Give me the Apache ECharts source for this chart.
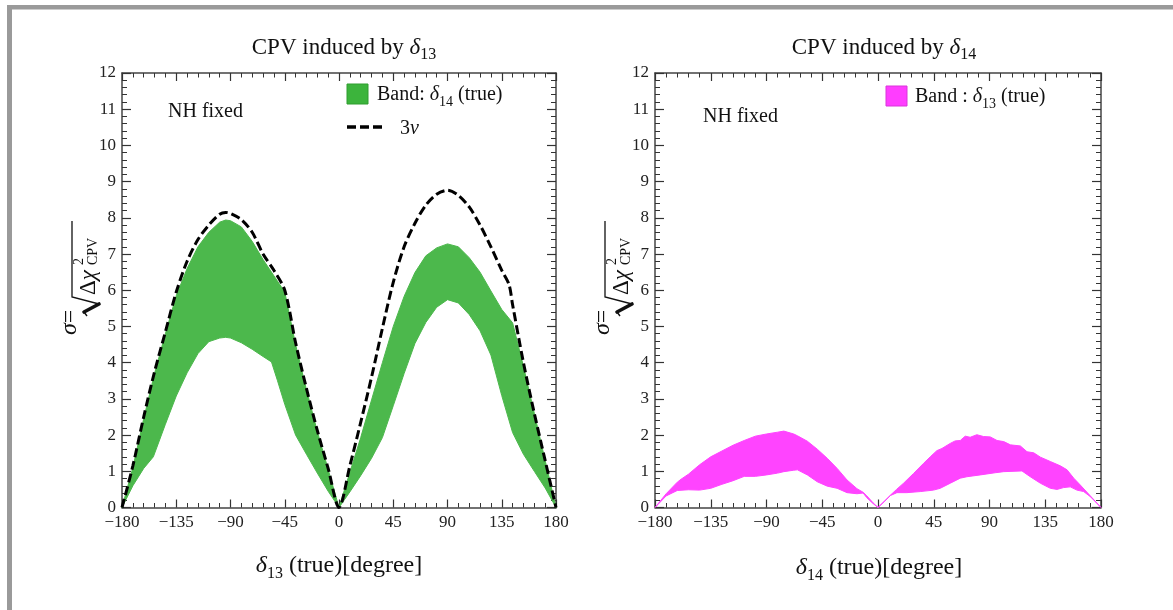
<!DOCTYPE html>
<html>
<head>
<meta charset="utf-8">
<script src="https://cdn.jsdelivr.net/npm/echarts@6/dist/echarts.min.js"></script>
<style>
html,body{margin:0;padding:0;background:#fff;}
#chart{width:1173px;height:610px;}
</style>
</head>
<body>
<div id="chart"></div>
<script>
// ---------- DATA ----------
// Left panel: CPV induced by delta13 (band over delta14 true), plus 3nu dashed
const leftUpperX = [-180,-171,-162,-153,-144,-135,-126,-117,-108,-99,-94,-90,-81,-72,-63,-54,-45,-36,-27,-18,-9,0,9,18,27,36,45,54,63,72,81,90,99,108,117,126,135,144,153,162,171,180];
const leftUpperY = [0,1.1,2.45,3.7,4.8,5.85,6.6,7.2,7.6,7.88,7.94,7.92,7.75,7.35,6.85,6.4,5.95,4.5,3.25,2.1,1.05,0,0.97,1.93,2.97,4.0,5.0,5.83,6.49,6.95,7.17,7.28,7.2,6.9,6.5,5.98,5.47,5.1,3.9,2.6,1.3,0];
const leftLowerX = [-180,-171,-162,-154,-144,-135,-126,-117,-108,-99,-94,-90,-81,-72,-63,-56,-51,-45,-36,-27,-18,-9,0,9,18,27,36,45,54,63,72,81,90,99,108,117,126,135,144,153,162,171,180];
const leftLowerY = [0,0.6,1.08,1.4,2.3,3.08,3.72,4.25,4.58,4.68,4.7,4.68,4.55,4.37,4.17,4.02,3.5,2.85,2.0,1.47,0.95,0.45,0,0.43,0.88,1.36,1.93,2.81,3.7,4.53,5.11,5.53,5.74,5.65,5.33,4.88,4.21,3.09,2.07,1.47,1.0,0.54,0];
const threeNuX = [-180,-171,-162,-153,-144,-135,-126,-117,-108,-99,-94,-90,-81,-72,-63,-54,-45,-36,-27,-18,-9,0,9,18,27,36,45,54,63,72,81,90,99,108,117,126,135,141,144,153,162,171,180];
const threeNuY = [0,1.15,2.5,3.75,4.85,5.95,6.8,7.4,7.8,8.1,8.15,8.12,7.95,7.6,7.0,6.55,6.0,4.55,3.29,2.13,1.08,0,1.15,2.35,3.6,4.95,6.22,7.2,7.85,8.35,8.65,8.76,8.62,8.3,7.8,7.2,6.55,6.16,5.6,4.0,2.6,1.3,0];

// Right panel: CPV induced by delta14 (band over delta13 true)
const rightUpperX = [-180,-171,-162,-159,-153,-144,-135,-126,-117,-108,-99,-90,-81,-76,-68,-65,-57,-49,-41,-33,-25,-17,-12,-9,-4,0,5,10,15,20.6,28.7,36.8,42.2,47.5,51.6,58.3,62.3,66.4,70.4,74.4,79.8,85.2,90.6,96.1,101.5,106.9,114.9,120.3,125.7,131.1,139.1,147.2,152.6,158,163.3,171.4,180];
const rightUpperY = [0,0.38,0.70,0.78,0.92,1.18,1.40,1.56,1.72,1.85,1.97,2.03,2.08,2.11,2.03,1.98,1.83,1.61,1.36,1.08,0.76,0.52,0.42,0.32,0.13,0,0.17,0.34,0.5,0.67,0.94,1.22,1.40,1.57,1.63,1.77,1.84,1.85,1.97,1.94,2.01,1.96,1.95,1.85,1.82,1.73,1.70,1.54,1.51,1.39,1.27,1.15,1.04,0.81,0.62,0.32,0];
const rightLowerX = [-180,-171,-162,-153,-144,-135,-126,-117,-108,-99,-90,-81,-76,-68,-65,-57,-49,-41,-33,-25,-17,-12,-9,-4,0,5,10,15.3,23.3,34.1,44.8,50.2,58.3,66.4,71.8,82.5,94.6,101.5,116.2,122.9,131.1,139.1,144.5,149.8,155.2,160.6,166,171.4,180];
const rightLowerY = [0,0.32,0.47,0.49,0.48,0.53,0.64,0.74,0.86,0.86,0.90,0.95,0.99,1.03,1.04,0.90,0.71,0.59,0.53,0.41,0.38,0.40,0.27,0.11,0,0.16,0.33,0.41,0.41,0.44,0.48,0.53,0.67,0.81,0.85,0.90,0.96,0.99,1.01,0.85,0.67,0.53,0.50,0.55,0.57,0.48,0.44,0.30,0];

const xTicks = [-180,-135,-90,-45,0,45,90,135,180];
const yTicks = [0,1,2,3,4,5,6,7,8,9,10,11,12];

// ---------- HELPERS ----------
const FONT = '"Liberation Serif","DejaVu Serif",serif';
const pairs = (xs, ys) => xs.map((x, i) => [x, ys[i]]);
const GREEN = '#4cb84c';
const MAGENTA = '#ff44ff';
const TXT = '#111';

function bandSeries(idx, upX, upY, loX, loY, color) {
  const up = pairs(upX, upY);
  const lo = pairs(loX, loY);
  return {
    type: 'custom',
    xAxisIndex: idx, yAxisIndex: idx,
    data: up,
    encode: {x: 0, y: 1},
    silent: true,
    z: 2,
    renderItem: function (params, api) {
      if (params.dataIndex !== 0) return null;
      const pts = [];
      up.forEach(p => pts.push(api.coord(p)));
      for (let i = lo.length - 1; i >= 0; i--) pts.push(api.coord(lo[i]));
      return {
        type: 'polygon',
        shape: {points: pts},
        style: {fill: color, stroke: color, lineWidth: 1}
      };
    }
  };
}

// rich styles: a normal, d italic, s subscript
function rich(size, colorKey) {
  const ck = colorKey || 'color';
  const sub = Math.round(size * 0.68);
  const mk = (o) => { o[ck] = TXT; o.fontFamily = FONT; o.fontWeight = 'normal'; return o; };
  return {
    a: mk({fontSize: size, lineHeight: size + 8, verticalAlign: 'middle'}),
    d: mk({fontSize: size, fontStyle: 'italic', lineHeight: size + 8, verticalAlign: 'middle'}),
    s: mk({fontSize: sub, lineHeight: sub, verticalAlign: 'bottom'})
  };
}

const AX_COL = '#444';
function xAxes(grid) {
  const base = {
    type: 'value', gridIndex: grid, min: -180, max: 180, interval: 45,
    axisLine: {show: true, onZero: false, lineStyle: {color: AX_COL, width: 1.5}},
    axisTick: {show: true, inside: true, length: 8, lineStyle: {color: '#333', width: 1.2}},
    minorTick: {show: true, splitNumber: 5, length: 4.5, lineStyle: {color: '#333', width: 1}},
    splitLine: {show: false},
  };
  return [
    Object.assign({}, base, {position: 'bottom',
      axisLabel: {show: true, fontFamily: FONT, fontSize: 17, color: '#222', margin: 7,
        formatter: v => (xTicks.indexOf(v) >= 0 ? String(v).replace('-', '\u2212') : '')}}),
    Object.assign({}, base, {position: 'top', axisLabel: {show: false}})
  ];
}
function yAxes(grid) {
  const base = {
    type: 'value', gridIndex: grid, min: 0, max: 12, interval: 1,
    axisLine: {show: true, onZero: false, lineStyle: {color: AX_COL, width: 1.5}},
    axisTick: {show: true, inside: true, length: 9, lineStyle: {color: '#333', width: 1.2}},
    minorTick: {show: true, splitNumber: 5, length: 5, lineStyle: {color: '#333', width: 1}},
    splitLine: {show: false},
  };
  return [
    Object.assign({}, base, {position: 'left',
      axisLabel: {show: true, fontFamily: FONT, fontSize: 17, color: '#222', margin: 6,
        formatter: v => (yTicks.indexOf(v) >= 0 ? String(v) : '')}}),
    Object.assign({}, base, {position: 'right', axisLabel: {show: false}})
  ];
}

function yName(x0, y0) {
  // rotated formula: sigma = sqrt(Delta chi^2_CPV); local u = up the page, v = to the right
  return {
    type: 'group', x: x0, y: y0, rotation: Math.PI / 2, silent: true,
    children: [
      {type: 'text', x: 0, y: 0, style: {text: '{d|σ}{a|=}', rich: {
        d: {fontFamily: FONT, fontSize: 24, fontStyle: 'italic', fill: TXT},
        a: {fontFamily: FONT, fontSize: 24, fill: TXT}}, verticalAlign: 'middle'}},
      // radical: hook, heavy stroke, long thin stroke, overline
      {type: 'polyline', shape: {points: [[19, 17], [23, 14]]},
        style: {stroke: TXT, lineWidth: 1.4, fill: null}},
      {type: 'polyline', shape: {points: [[23, 14], [31, 29]]},
        style: {stroke: TXT, lineWidth: 3.6, fill: null, lineCap: 'round'}},
      {type: 'polyline', shape: {points: [[31, 29], [38, 2], [114, 2]]},
        style: {stroke: TXT, lineWidth: 1.3, fill: null}},
      {type: 'text', x: 40, y: 19, style: {text: '{a|Δ}{d|χ}', rich: {
        d: {fontFamily: FONT, fontSize: 23, fontStyle: 'italic', fill: TXT},
        a: {fontFamily: FONT, fontSize: 23, fill: TXT}}, verticalAlign: 'middle'}},
      {type: 'text', x: 70, y: 9, style: {text: '2', fontFamily: FONT, fontSize: 14, fill: TXT, verticalAlign: 'middle'}},
      {type: 'text', x: 70, y: 23, style: {text: 'CPV', fontFamily: FONT, fontSize: 14, fill: TXT, verticalAlign: 'middle'}}
    ]
  };
}

const option = {
  animation: false,
  backgroundColor: '#fff',
  title: [
    {text: '{a|CPV induced by }{d|δ}{s|13}', left: 339, top: 27, textAlign: 'center',
      textStyle: {fontWeight: 'normal', rich: rich(23)}},
    {text: '{a|CPV induced by }{d|δ}{s|14}', left: 879, top: 27, textAlign: 'center',
      textStyle: {fontWeight: 'normal', rich: rich(23)}}
  ],
  grid: [
    {left: 122, right: 1173 - 556, top: 73, bottom: 610 - 507.5},
    {left: 655, right: 1173 - 1101, top: 73, bottom: 610 - 507.5}
  ],
  xAxis: [...xAxes(0), ...xAxes(1)],
  yAxis: [...yAxes(0), ...yAxes(1)],
  series: [
    bandSeries(0, leftUpperX, leftUpperY, leftLowerX, leftLowerY, GREEN),
    {type: 'line', xAxisIndex: 0, yAxisIndex: 0, data: pairs(threeNuX, threeNuY),
      showSymbol: false, symbol: 'none', smooth: 0.3, silent: true, z: 3,
      lineStyle: {color: '#000', width: 3, type: [9, 4]}},
    bandSeries(2, rightUpperX, rightUpperY, rightLowerX, rightLowerY, MAGENTA)
  ],
  graphic: [
    // outer frame
    {type: 'rect', shape: {x: 7, y: 5, width: 1166, height: 4.5}, style: {fill: '#9a9a9a'}, silent: true},
    {type: 'rect', shape: {x: 7, y: 5, width: 5, height: 605}, style: {fill: '#9a9a9a'}, silent: true},
    // NH fixed labels
    {type: 'text', x: 168, y: 112, style: {text: 'NH fixed', fontFamily: FONT, fontSize: 20, fill: TXT, verticalAlign: 'middle'}},
    {type: 'text', x: 703, y: 117, style: {text: 'NH fixed', fontFamily: FONT, fontSize: 20, fill: TXT, verticalAlign: 'middle'}},
    // left legend
    {type: 'rect', shape: {x: 347, y: 84, width: 21, height: 20}, style: {fill: '#3cb43c', stroke: '#2f9d2f', lineWidth: 1}},
    {type: 'text', x: 377, y: 95, style: {text: '{a|Band: }{d|δ}{s|14}{a| (true)}', rich: rich(20, 'fill'), verticalAlign: 'middle'}},
    {type: 'line', shape: {x1: 347, y1: 127, x2: 383, y2: 127}, style: {stroke: '#000', lineWidth: 3.5, lineDash: [9, 4]}},
    {type: 'text', x: 400, y: 129, style: {text: '{a|3}{d|ν}', rich: rich(20, 'fill'), verticalAlign: 'middle'}},
    // right legend
    {type: 'rect', shape: {x: 886, y: 86, width: 21, height: 20}, style: {fill: '#ff3dff', stroke: '#d936d9', lineWidth: 1}},
    {type: 'text', x: 915, y: 97, style: {text: '{a|Band : }{d|δ}{s|13}{a| (true)}', rich: rich(20, 'fill'), verticalAlign: 'middle'}},
    // x axis names
    {type: 'text', x: 339, y: 566, style: {text: '{d|δ}{s|13}{a| (true)[degree]}', align: 'center', verticalAlign: 'middle', rich: rich(24, 'fill')}},
    {type: 'text', x: 879, y: 568, style: {text: '{d|δ}{s|14}{a| (true)[degree]}', align: 'center', verticalAlign: 'middle', rich: rich(24, 'fill')}},
    // y axis names
    yName(70, 335),
    yName(603, 335)
  ]
};

const chart = echarts.init(document.getElementById('chart'), null, {renderer: 'canvas'});
chart.setOption(option);
</script>
</body>
</html>
